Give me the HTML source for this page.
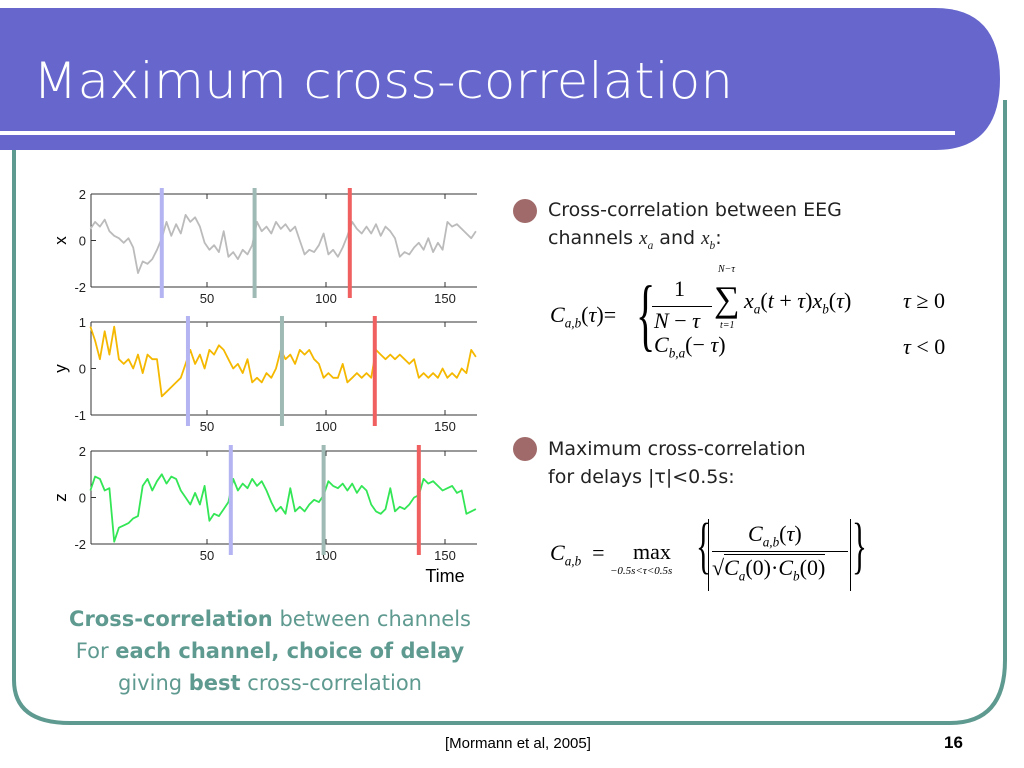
<!DOCTYPE html>
<html><head><meta charset="utf-8"><style>
body{margin:0;width:1024px;height:768px;overflow:hidden;background:#fff;position:relative;font-family:"DejaVu Sans","Liberation Sans",sans-serif}
.t{position:absolute;white-space:nowrap}
.m{font-family:"Liberation Serif",serif;font-style:italic}
.r{font-family:"Liberation Serif",serif;font-style:normal}
sub{font-size:60%}
</style></head><body>
<svg width="1024" height="768" style="position:absolute;left:0;top:0">
<path d="M14 150 L14 680 Q14 723 70 723 L950 723 Q1005 723 1005 660 L1005 100" fill="none" stroke="#5f9a90" stroke-width="4"/>
<path d="M0 8 L935 8 Q1000 8 1000 79 Q1000 150 935 150 L0 150 Z" fill="#6666cc"/>
<rect x="0" y="131" width="955" height="4" fill="#fff"/>
<text x="33" y="98" font-family="DejaVu Sans" font-size="50" fill="#fff" textLength="700" lengthAdjust="spacingAndGlyphs" style="font-weight:200">Maximum cross-correlation</text>
<g id="chart"></g>
<circle cx="525" cy="211" r="12" fill="#a06a6a"/>
<circle cx="525" cy="449" r="12" fill="#a06a6a"/>
</svg>

<div class="t" style="left:548px;top:196px;font-size:19px;line-height:28px;color:#222">Cross-correlation between EEG<br>channels <span class="m">x<sub>a</sub></span> and <span class="m">x<sub>b</sub></span>:</div>

<div class="t" style="left:548px;top:270px;width:420px;height:100px;font-size:22px">
 <span class="t m" style="left:2px;top:32px">C<sub>a,b</sub><span class="r">(</span>τ<span class="r">)</span><span class="r">=</span></span>
 <span class="t r" style="left:88px;top:0px;font-size:80px;line-height:90px;transform:scaleX(0.5);transform-origin:left">{</span>
 <span class="t r" style="left:126px;top:6px">1</span>
 <div class="t" style="left:104px;top:36px;width:60px;border-top:1px solid #000"></div>
 <span class="t m" style="left:106px;top:38px">N <span class="r">−</span> τ</span>
 <span class="t r" style="left:166px;top:8px;font-size:36px">∑</span>
 <span class="t m" style="left:170px;top:-6px;font-size:10px">N−τ</span>
 <span class="t m" style="left:172px;top:50px;font-size:10px">t=1</span>
 <span class="t m" style="left:196px;top:18px">x<sub>a</sub><span class="r">(</span>t <span class="r">+</span> τ<span class="r">)</span>x<sub>b</sub><span class="r">(</span>τ<span class="r">)</span></span>
 <span class="t m" style="left:355px;top:18px">τ <span class="r">≥ 0</span></span>
 <span class="t m" style="left:106px;top:62px">C<sub>b,a</sub><span class="r">(− </span>τ<span class="r">)</span></span>
 <span class="t m" style="left:355px;top:64px">τ <span class="r">&lt; 0</span></span>
</div>

<div class="t" style="left:548px;top:435px;font-size:19px;line-height:28px;color:#222">Maximum cross-correlation<br>for delays |τ|&lt;0.5s:</div>

<div class="t" style="left:548px;top:515px;width:330px;height:80px;font-size:22px">
 <span class="t m" style="left:2px;top:25px">C<sub>a,b</sub> <span class="r">&nbsp;=</span></span>
 <span class="t r" style="left:85px;top:24px">max</span>
 <span class="t m" style="left:62px;top:50px;font-size:11px">−0.5s&lt;τ&lt;0.5s</span>
 <span class="t r" style="left:148px;top:-4px;font-size:62px;transform:scaleX(0.5);transform-origin:left">{</span>
 <span class="t" style="left:160px;top:4px;height:72px;border-left:1px solid #000"></span>
 <span class="t m" style="left:200px;top:6px">C<sub>a,b</sub><span class="r">(</span>τ<span class="r">)</span></span>
 <div class="t" style="left:164px;top:36px;width:136px;border-top:1px solid #000"></div>
 <span class="t m" style="left:164px;top:40px">√<span style="border-top:1px solid #000">C<sub>a</sub><span class="r">(0)·</span>C<sub>b</sub><span class="r">(0)</span></span></span>
 <span class="t" style="left:302px;top:4px;height:72px;border-left:1px solid #000"></span>
 <span class="t r" style="left:304px;top:-4px;font-size:62px;transform:scaleX(0.5);transform-origin:left">}</span>
</div>

<div class="t" style="left:30px;top:603px;width:480px;text-align:center;font-size:21px;line-height:32px;color:#5f9a90"><b>Cross-correlation</b> between channels<br>For <b>each channel, choice of delay</b><br>giving <b>best</b> cross-correlation</div>
<div class="t" style="left:445px;top:735px;font-size:15px;font-family:'Liberation Sans',sans-serif;color:#000">[Mormann et al, 2005]</div>
<div class="t" style="left:944px;top:733px;font-size:17px;font-weight:bold;font-family:'Liberation Sans',sans-serif">16</div>

<script>
const xVals=[0.5,0.8,0.6,0.9,0.4,0.2,0.1,-0.1,0.1,-0.3,-1.4,-0.9,-1.0,-0.8,-0.4,0.1,0.8,0.2,0.7,0.3,1.1,0.8,1.0,0.6,-0.1,-0.4,-0.2,-0.5,0.4,-0.7,-0.5,-0.8,-0.4,-0.6,-0.2,0.8,0.4,0.6,0.3,0.8,0.5,0.7,0.4,0.6,0.0,-0.6,-0.4,-0.5,-0.2,0.3,-0.6,-0.4,-0.7,-0.3,0.2,0.8,0.5,0.3,0.6,0.3,0.7,0.2,0.6,0.4,0.1,-0.7,-0.5,-0.6,-0.3,-0.1,-0.4,0.1,-0.5,-0.1,-0.4,0.8,0.6,0.7,0.5,0.3,0.1,0.4];
const yVals=[0.9,0.6,0.2,0.8,0.3,0.9,0.2,0.1,0.2,0.0,0.3,-0.1,0.3,0.2,0.2,-0.6,-0.5,-0.4,-0.3,-0.2,0.1,0.4,0.1,0.3,0.0,0.4,0.3,0.5,0.4,0.2,0.0,0.1,-0.1,0.2,-0.3,-0.2,-0.3,-0.1,-0.2,0.0,0.4,0.2,0.3,0.1,0.4,0.3,0.4,0.2,0.1,-0.2,-0.1,-0.2,-0.2,0.1,-0.3,-0.2,-0.1,-0.2,-0.1,-0.2,0.4,0.3,0.2,0.3,0.2,0.3,0.2,0.1,0.2,-0.2,-0.1,-0.2,-0.1,-0.2,0.0,-0.2,-0.1,-0.2,0.0,-0.1,0.4,0.25];
const zVals=[0.3,0.9,0.8,0.3,0.4,-1.9,-1.3,-1.2,-1.1,-0.9,-0.8,0.5,0.8,0.3,0.7,1.0,0.6,0.9,0.8,0.3,0.0,-0.3,0.2,-0.3,0.5,-1.0,-0.7,-0.8,-0.5,-0.2,0.8,0.3,0.6,0.4,0.8,0.5,0.7,0.3,-0.2,-0.6,-0.4,-0.7,0.4,-0.6,-0.4,-0.6,-0.3,-0.1,-0.2,0.1,0.7,0.5,0.4,0.6,0.3,0.6,0.2,0.5,0.3,-0.3,-0.6,-0.7,-0.5,0.4,-0.6,-0.4,-0.5,-0.3,0.0,0.1,0.8,0.6,0.7,0.5,0.3,0.4,0.5,0.2,0.3,-0.7,-0.6,-0.5];
const tStart=1, tStep=2;
const xTicks=[50,100,150];
const xMarkers=[31,70,110];
const yMarkers=[42,81.5,120.5];
const zMarkers=[60,99,139];
const xYTicks=[2,0,-2], yYTicks=[1,0,-1], zYTicks=[2,0,-2];
const panels=[
 {name:'x',vals:xVals,mk:xMarkers,ticks:xYTicks,min:-2,max:2,top:194,bot:287,col:'#bbbbbb'},
 {name:'y',vals:yVals,mk:yMarkers,ticks:yYTicks,min:-1,max:1,top:322,bot:415,col:'#f5b800'},
 {name:'z',vals:zVals,mk:zMarkers,ticks:zYTicks,min:-2,max:2,top:451,bot:544,col:'#33e655'}];
const mkCols=['#b4b4f2','#9fbab5','#f06060'];
const NS='http://www.w3.org/2000/svg', g=document.getElementById('chart');
const L=91,R=477; const sx=t=>88+t*2.38;
function el(tag,a,txt){const e=document.createElementNS(NS,tag);for(const k in a)e.setAttribute(k,a[k]);if(txt!=null)e.textContent=txt;g.appendChild(e);return e;}
panels.forEach(p=>{
 const sy=v=>p.bot-(v-p.min)/(p.max-p.min)*(p.bot-p.top);
 let a=el('line',{x1:L,y1:p.top,x2:R,y2:p.top,stroke:'#333','stroke-width':1});
 
 
 a=el('line',{x1:L,y1:p.bot,x2:R,y2:p.bot,stroke:'#333','stroke-width':1});
 
 
 a=el('line',{x1:L,y1:p.top,x2:L,y2:p.bot,stroke:'#333','stroke-width':1});
 
 
 xTicks.forEach(t=>{
  el('line',{x1:sx(t),y1:p.top,x2:sx(t),y2:p.top+5,stroke:'#333'});
  el('line',{x1:sx(t),y1:p.bot,x2:sx(t),y2:p.bot-5,stroke:'#333'});
  const tl=el('text',{x:sx(t),y:p.bot+16,'font-size':13,'text-anchor':'middle','font-family':'Liberation Sans',fill:'#222'},t);
  
  
 });
 p.ticks.forEach(v=>{
  const tl=el('text',{x:L-5,y:sy(v)+5,'font-size':13,'text-anchor':'end','font-family':'Liberation Sans',fill:'#222'},v);
  
  
 });
 el('line',{x1:L,y1:sy(0),x2:L+5,y2:sy(0),stroke:'#333'});
 const yl=el('text',{x:0,y:0,'font-size':17,'text-anchor':'middle','font-family':'Liberation Sans',fill:'#000',transform:`translate(66 ${(p.top+p.bot)/2}) rotate(-90)`},p.name);
 
 
 const d=p.vals.map((v,i)=>(i?'L':'M')+sx(tStart+i*tStep).toFixed(1)+' '+sy(v).toFixed(1)).join(' ');
 const ln=el('path',{d:d,fill:'none',stroke:p.col,'stroke-width':1.8,'stroke-linejoin':'round'});
 
 
 p.mk.forEach((t,i)=>{
  const m=el('rect',{x:sx(t)-2,y:p.top-6,width:4,height:p.bot-p.top+17,fill:mkCols[i]});
  
  
 });
});
const tt=el('text',{x:445,y:582,'font-size':18,'text-anchor':'middle','font-family':'Liberation Sans',fill:'#000'},'Time');


</script>
</body></html>
